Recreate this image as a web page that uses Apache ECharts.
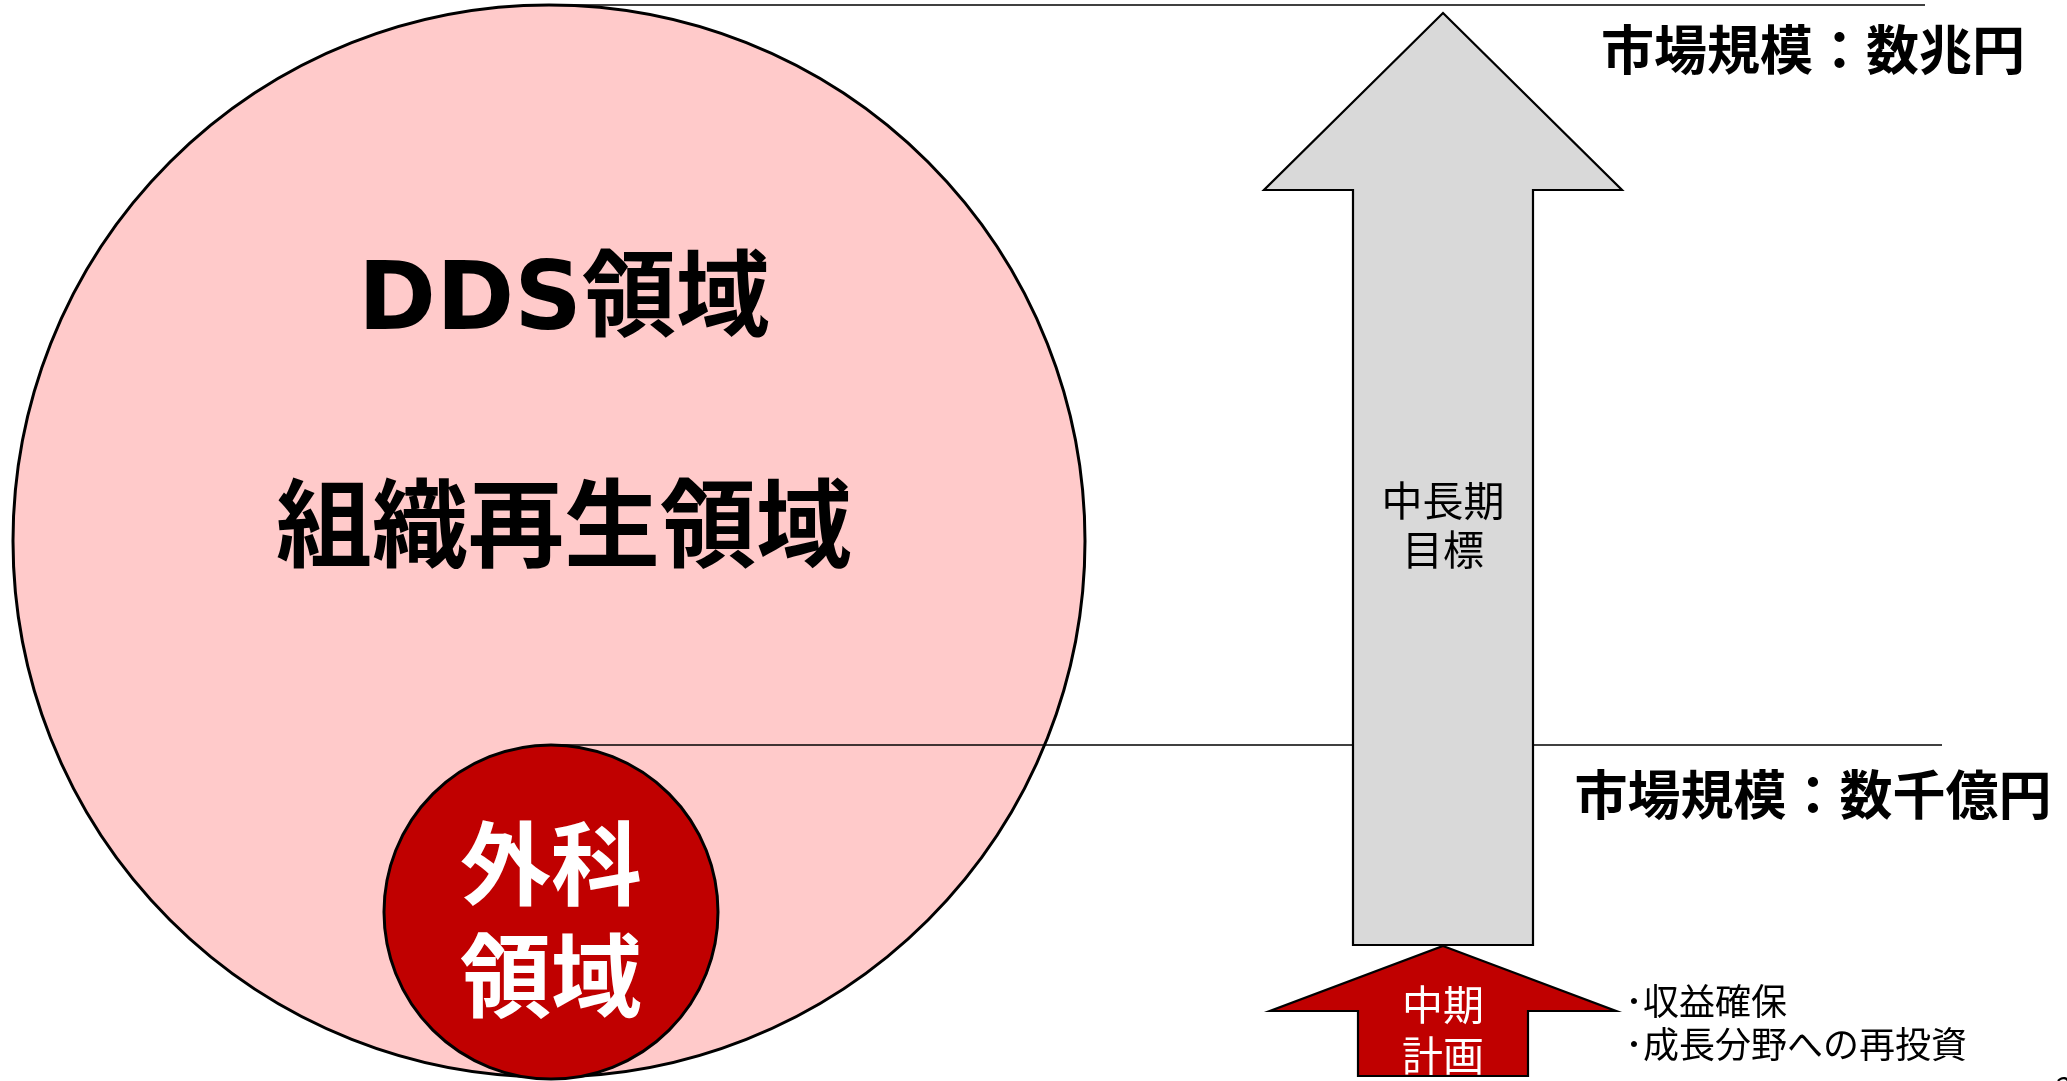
<!DOCTYPE html>
<html><head><meta charset="utf-8">
<script src="https://cdn.jsdelivr.net/npm/echarts@6/dist/echarts.min.js"></script>
<style>html,body{margin:0;padding:0;background:#fff;}#c{width:2067px;height:1081px;}</style>
</head><body><div id="c"></div>
<script>
// ---- diagram data (in diagram units = reference pixels) ----
const circleNames = ['DDS・組織再生領域', '外科領域'];
const circleX = [549, 551];
const circleY = [541, 912];
const circleR = [536, 167];

const guideY = [5, 745];
const guideStartX = [549, 551];
const guideEndX = [1925, 1942];

const arrowNames = ['中長期目標', '中期計画'];
const arrowCenterX = [1443, 1443];
const arrowTipY = [13, 946];
const arrowHeadY = [190, 1011];
const arrowHeadHalf = [179, 173];
const arrowShaftHalf = [90, 85];
const arrowBottomY = [945, 1076];

const labelTexts = ['DDS領域', '組織再生領域', '外科\n領域', '市場規模：数兆円', '市場規模：数千億円', '中長期\n目標', '中期\n計画', '･収益確保\n･成長分野への再投資', '2'];
const labelX = [564, 564, 551, 1813, 1813, 1443, 1443, 1625, 2056];
const labelY = [305, 523, 919, 50, 795, 525, 1030, 1023, 1088];

// ---- styles ----
const circleFill = ['#ffcaca', '#c00000'];
const arrowFill = ['#d9d9d9', '#c00000'];
const FONT = '"Noto Sans CJK JP", "Noto Sans", sans-serif';
const FONT_LATIN = '"DejaVu Sans", "Noto Sans CJK JP", sans-serif';
const labelStyle = [
  {size: 94, weight: 'bold', color: '#000', align: 'center', lh: 110, font: FONT_LATIN},
  {size: 96, weight: 'bold', color: '#000', align: 'center', lh: 110, font: FONT},
  {size: 91, weight: 'bold', color: '#fff', align: 'center', lh: 112, font: FONT},
  {size: 53, weight: 'bold', color: '#000', align: 'center', lh: 60, font: FONT},
  {size: 53, weight: 'bold', color: '#000', align: 'center', lh: 60, font: FONT},
  {size: 41, weight: 'normal', color: '#000', align: 'center', lh: 49, font: FONT},
  {size: 41, weight: 'normal', color: '#fff', align: 'center', lh: 51, font: FONT},
  {size: 36, weight: 'normal', color: '#000', align: 'left', lh: 43, font: FONT},
  {size: 30, weight: 'normal', color: '#000', align: 'left', lh: 36, font: FONT}
];

const chart = echarts.init(document.getElementById('c'), null, {renderer: 'canvas'});

const circleData = circleNames.map((n, i) => [circleX[i], circleY[i], circleR[i], i]);
const guideData = guideY.map((y, i) => [guideStartX[i], y, guideEndX[i], i]);
const arrowData = arrowNames.map((n, i) => [arrowCenterX[i], arrowTipY[i], arrowHeadY[i], arrowHeadHalf[i], arrowShaftHalf[i], arrowBottomY[i], i]);
const labelData = labelTexts.map((t, i) => [labelX[i], labelY[i], i]);

chart.setOption({
  animation: false,
  backgroundColor: '#ffffff',
  grid: {left: 0, right: 0, top: 0, bottom: 0},
  xAxis: {type: 'value', min: 0, max: 2067, show: false},
  yAxis: {type: 'value', min: 0, max: 1081, inverse: true, show: false},
  series: [
    {
      type: 'custom', name: 'circles', data: circleData, z: 1,
      renderItem: (params, api) => {
        const c = api.coord([api.value(0), api.value(1)]);
        const r = api.size([api.value(2), 0])[0];
        const i = api.value(3);
        return {type: 'circle', shape: {cx: c[0], cy: c[1], r: r},
          style: {fill: circleFill[i], stroke: '#000', lineWidth: 3}};
      }
    },
    {
      type: 'custom', name: 'guides', data: guideData, z: 2,
      renderItem: (params, api) => {
        const a = api.coord([api.value(0), api.value(1)]);
        const b = api.coord([api.value(2), api.value(1)]);
        return {type: 'line', shape: {x1: a[0], y1: a[1], x2: b[0], y2: b[1]},
          style: {stroke: '#000', lineWidth: 1.6}};
      }
    },
    {
      type: 'custom', name: 'arrows', data: arrowData, z: 3,
      renderItem: (params, api) => {
        const cx = api.value(0), tip = api.value(1), hy = api.value(2);
        const hh = api.value(3), sh = api.value(4), by = api.value(5), i = api.value(6);
        const pts = [[cx, tip], [cx + hh, hy], [cx + sh, hy], [cx + sh, by], [cx - sh, by], [cx - sh, hy], [cx - hh, hy]]
          .map(p => api.coord(p));
        return {type: 'polygon', shape: {points: pts},
          style: {fill: arrowFill[i], stroke: '#000', lineWidth: 2.2}};
      }
    },
    {
      type: 'custom', name: 'labels', data: labelData, z: 4,
      renderItem: (params, api) => {
        const p = api.coord([api.value(0), api.value(1)]);
        const i = api.value(2);
        const s = labelStyle[i];
        return {type: 'text', x: p[0], y: p[1],
          style: {text: labelTexts[i], fontSize: s.size, fontWeight: s.weight, fontFamily: s.font,
            fill: s.color, align: s.align, verticalAlign: 'middle', lineHeight: s.lh}};
      }
    }
  ]
});
</script></body></html>
